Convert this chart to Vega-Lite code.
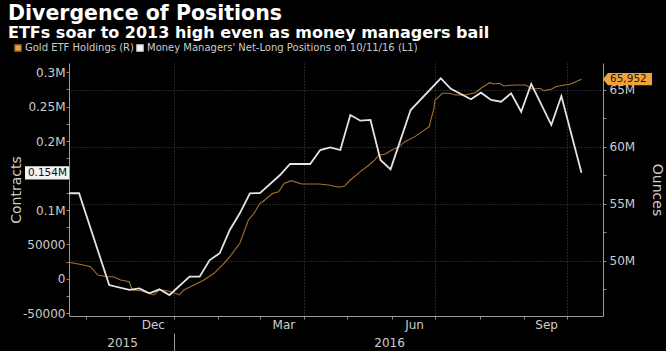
{
  "$schema": "https://vega.github.io/schema/vega-lite/v6.json",
  "width": 534,
  "height": 253,
  "autosize": {"type": "none"},
  "padding": {"left": 69, "top": 63, "right": 63, "bottom": 35},
  "background": "#000000",
  "title": {
    "text": "Divergence of Positions",
    "subtitle": "ETFs soar to 2013 high even as money managers bail",
    "anchor": "start",
    "frame": "group",
    "dx": -61,
    "offset": 2,
    "font": "DejaVu Sans",
    "fontSize": 20.5,
    "fontWeight": "bold",
    "color": "#ffffff",
    "subtitleFont": "DejaVu Sans",
    "subtitleFontSize": 16,
    "subtitleFontWeight": "bold",
    "subtitleColor": "#ffffff",
    "subtitlePadding": 1
  },
  "datasets": {
    "mm": [
      {"date": "2015-10-20", "value": 124300},
      {"date": "2015-10-27", "value": 124300},
      {"date": "2015-11-17", "value": -8900},
      {"date": "2015-12-01", "value": -16000},
      {"date": "2015-12-08", "value": -13700},
      {"date": "2015-12-15", "value": -20900},
      {"date": "2015-12-22", "value": -15100},
      {"date": "2015-12-29", "value": -23400},
      {"date": "2016-01-12", "value": 3200},
      {"date": "2016-01-19", "value": 3200},
      {"date": "2016-01-26", "value": 27400},
      {"date": "2016-02-02", "value": 37200},
      {"date": "2016-02-09", "value": 71000},
      {"date": "2016-02-16", "value": 95200},
      {"date": "2016-02-23", "value": 124300},
      {"date": "2016-03-01", "value": 124600},
      {"date": "2016-03-15", "value": 150800},
      {"date": "2016-03-22", "value": 166800},
      {"date": "2016-04-05", "value": 166800},
      {"date": "2016-04-12", "value": 187100},
      {"date": "2016-04-19", "value": 191000},
      {"date": "2016-04-26", "value": 187100},
      {"date": "2016-05-03", "value": 237900},
      {"date": "2016-05-10", "value": 229700},
      {"date": "2016-05-17", "value": 230700},
      {"date": "2016-05-24", "value": 172600},
      {"date": "2016-05-31", "value": 159100},
      {"date": "2016-06-14", "value": 245100},
      {"date": "2016-07-05", "value": 291200},
      {"date": "2016-07-12", "value": 276000},
      {"date": "2016-07-26", "value": 260700},
      {"date": "2016-08-02", "value": 270300},
      {"date": "2016-08-09", "value": 259700},
      {"date": "2016-08-16", "value": 257200},
      {"date": "2016-08-23", "value": 269400},
      {"date": "2016-08-30", "value": 242700},
      {"date": "2016-09-06", "value": 283000},
      {"date": "2016-09-20", "value": 223400},
      {"date": "2016-09-27", "value": 265500},
      {"date": "2016-10-11", "value": 154000}
    ],
    "etf": [
      {"date": "2015-10-20", "value": 49860000},
      {"date": "2015-10-30", "value": 49620000},
      {"date": "2015-11-04", "value": 49470000},
      {"date": "2015-11-09", "value": 48740000},
      {"date": "2015-11-16", "value": 48590000},
      {"date": "2015-11-20", "value": 48590000},
      {"date": "2015-11-25", "value": 48300000},
      {"date": "2015-12-01", "value": 48150000},
      {"date": "2015-12-03", "value": 47430000},
      {"date": "2015-12-09", "value": 47360000},
      {"date": "2015-12-18", "value": 46990000},
      {"date": "2015-12-22", "value": 47430000},
      {"date": "2015-12-28", "value": 47340000},
      {"date": "2015-12-31", "value": 47220000},
      {"date": "2016-01-05", "value": 46990000},
      {"date": "2016-01-08", "value": 47430000},
      {"date": "2016-01-15", "value": 47860000},
      {"date": "2016-01-22", "value": 48300000},
      {"date": "2016-01-29", "value": 48890000},
      {"date": "2016-02-05", "value": 49770000},
      {"date": "2016-02-09", "value": 50350000},
      {"date": "2016-02-16", "value": 51530000},
      {"date": "2016-02-22", "value": 53580000},
      {"date": "2016-02-25", "value": 54020000},
      {"date": "2016-02-26", "value": 54170000},
      {"date": "2016-03-01", "value": 55040000},
      {"date": "2016-03-03", "value": 55180000},
      {"date": "2016-03-07", "value": 55620000},
      {"date": "2016-03-10", "value": 55920000},
      {"date": "2016-03-14", "value": 56060000},
      {"date": "2016-03-18", "value": 56800000},
      {"date": "2016-03-23", "value": 57030000},
      {"date": "2016-03-30", "value": 56740000},
      {"date": "2016-04-11", "value": 56740000},
      {"date": "2016-04-18", "value": 56650000},
      {"date": "2016-04-25", "value": 56450000},
      {"date": "2016-04-29", "value": 56560000},
      {"date": "2016-05-03", "value": 57090000},
      {"date": "2016-05-10", "value": 57820000},
      {"date": "2016-05-16", "value": 58410000},
      {"date": "2016-05-20", "value": 58850000},
      {"date": "2016-05-23", "value": 59290000},
      {"date": "2016-05-27", "value": 59350000},
      {"date": "2016-06-01", "value": 59730000},
      {"date": "2016-06-06", "value": 60020000},
      {"date": "2016-06-10", "value": 60460000},
      {"date": "2016-06-17", "value": 60900000},
      {"date": "2016-06-22", "value": 61340000},
      {"date": "2016-06-27", "value": 61780000},
      {"date": "2016-06-28", "value": 62360000},
      {"date": "2016-06-30", "value": 63240000},
      {"date": "2016-07-01", "value": 64120000},
      {"date": "2016-07-05", "value": 64560000},
      {"date": "2016-07-06", "value": 64710000},
      {"date": "2016-07-11", "value": 64710000},
      {"date": "2016-07-15", "value": 64560000},
      {"date": "2016-07-22", "value": 64560000},
      {"date": "2016-07-29", "value": 64760000},
      {"date": "2016-08-02", "value": 65150000},
      {"date": "2016-08-08", "value": 65640000},
      {"date": "2016-08-11", "value": 65530000},
      {"date": "2016-08-15", "value": 65590000},
      {"date": "2016-08-18", "value": 65350000},
      {"date": "2016-08-22", "value": 65410000},
      {"date": "2016-08-29", "value": 65440000},
      {"date": "2016-09-02", "value": 65440000},
      {"date": "2016-09-07", "value": 65060000},
      {"date": "2016-09-12", "value": 65150000},
      {"date": "2016-09-15", "value": 64940000},
      {"date": "2016-09-20", "value": 65060000},
      {"date": "2016-09-23", "value": 65290000},
      {"date": "2016-09-28", "value": 65410000},
      {"date": "2016-10-03", "value": 65500000},
      {"date": "2016-10-07", "value": 65730000},
      {"date": "2016-10-11", "value": 65952000}
    ],
    "mmTag": [{"label": "0.154M", "value": 154000}],
    "etfTag": [{"label": "65,952", "value": 65952000}]
  },
  "layer": [
    {
      "data": {"name": "etf", "format": {"parse": {"date": "date:'%Y-%m-%d'"}}},
      "mark": {"type": "line", "strokeWidth": 1.1},
      "encoding": {
        "x": {
          "field": "date",
          "type": "temporal",
          "axis": {
            "orient": "bottom",
            "offset": 17,
            "title": null,
            "values": [
              {"year": 2015, "month": 11, "date": 26},
              {"year": 2016, "month": 1, "date": 1},
              {"year": 2016, "month": 5, "date": 30}
            ],
            "domain": false,
            "grid": false,
            "tickSize": 18,
            "tickColor": "#999999",
            "tickOpacity": {"condition": {"test": "month(datum.value) == 0 && date(datum.value) == 1", "value": 1}, "value": 0},
            "labelExpr": "(month(datum.value) == 0 && date(datum.value) == 1) ? '' : timeFormat(datum.value, '%Y')",
            "labelPadding": -14,
            "labelColor": "#cccccc",
            "labelFont": "DejaVu Sans",
            "labelFontSize": 12,
            "labelOverlap": false,
            "labelFlush": false,
            "labelBound": false
          }
        },
        "y": {
          "field": "value",
          "type": "quantitative",
          "scale": {"domain": [45140000, 67370000], "nice": false, "zero": false},
          "axis": {
            "orient": "right",
            "title": "Ounces",
            "titleColor": "#cccccc",
            "titleFont": "DejaVu Sans",
            "titleFontSize": 14,
            "titleFontWeight": "normal",
            "titlePadding": 15,
            "values": [47500000, 50000000, 52500000, 55000000, 57500000, 60000000, 62500000, 65000000],
            "labelExpr": "datum.value % 5000000 == 0 ? format(datum.value / 1000000, 'd') + 'M' : ''",
            "labelColor": "#cccccc",
            "labelFont": "DejaVu Sans",
            "labelFontSize": 12,
            "labelPadding": 3,
            "labelOverlap": false,
            "labelFlush": false,
            "labelBound": false,
            "tickSize": 3,
            "tickColor": "#888888",
            "domainColor": "#999999",
            "grid": true,
            "gridColor": "#4a4a4a",
            "gridDash": [1, 2],
            "gridOpacity": {"condition": {"test": "datum.value % 5000000 == 0", "value": 1}, "value": 0}
          }
        },
        "color": {"datum": "Gold ETF Holdings (R)", "type": "nominal"}
      }
    },
    {
      "data": {"name": "mm", "format": {"parse": {"date": "date:'%Y-%m-%d'"}}},
      "mark": {"type": "line", "strokeWidth": 1.8},
      "encoding": {
        "x": {
          "field": "date",
          "type": "temporal",
          "scale": {"domain": [{"year": 2015, "month": 10, "date": 20}, {"year": 2016, "month": 10, "date": 26}]},
          "axis": {
            "orient": "bottom",
            "title": null,
            "values": [
              {"year": 2015, "month": 11, "date": 1},
              {"year": 2015, "month": 12, "date": 1},
              {"year": 2016, "month": 1, "date": 1},
              {"year": 2016, "month": 2, "date": 1},
              {"year": 2016, "month": 3, "date": 1},
              {"year": 2016, "month": 4, "date": 1},
              {"year": 2016, "month": 5, "date": 1},
              {"year": 2016, "month": 6, "date": 1},
              {"year": 2016, "month": 7, "date": 1},
              {"year": 2016, "month": 8, "date": 1},
              {"year": 2016, "month": 9, "date": 1},
              {"year": 2016, "month": 10, "date": 1}
            ],
            "labelExpr": "month(datum.value)==0 ? 'Dec' : month(datum.value)==3 ? 'Mar' : month(datum.value)==6 ? 'Jun' : month(datum.value)==9 ? 'Sep' : ''",
            "labelOffset": -21,
            "labelOverlap": false,
            "labelFlush": false,
            "labelBound": false,
            "tickSize": 3,
            "tickColor": "#888888",
            "domainColor": "#999999",
            "labelColor": "#cccccc",
            "labelFont": "DejaVu Sans",
            "labelFontSize": 12,
            "labelPadding": 0,
            "grid": true,
            "gridColor": "#4a4a4a",
            "gridDash": [1, 2],
            "gridOpacity": {"condition": {"test": "month(datum.value) % 3 == 0", "value": 1}, "value": 0}
          }
        },
        "y": {
          "field": "value",
          "type": "quantitative",
          "scale": {"domain": [-53850, 313400], "nice": false, "zero": false},
          "axis": {
            "orient": "left",
            "title": "Contracts",
            "titleColor": "#cccccc",
            "titleFont": "DejaVu Sans",
            "titleFontSize": 14,
            "titleFontWeight": "normal",
            "titlePadding": -1,
            "values": [-50000, -25000, 0, 25000, 50000, 75000, 100000, 125000, 150000, 175000, 200000, 225000, 250000, 275000, 300000],
            "labelExpr": "(datum.value % 50000 != 0 || datum.value == 150000) ? '' : (abs(datum.value) >= 100000 ? format(datum.value / 1000000, '.2~f') + 'M' : (datum.value < 0 ? '-' : '') + format(abs(datum.value), 'd'))",
            "labelColor": "#cccccc",
            "labelFont": "DejaVu Sans",
            "labelFontSize": 12,
            "labelPadding": 1,
            "labelOverlap": false,
            "labelFlush": false,
            "labelBound": false,
            "tickSize": 3,
            "tickColor": "#888888",
            "domainColor": "#999999",
            "grid": false
          }
        },
        "color": {
          "datum": "Money Managers' Net-Long Positions  on 10/11/16 (L1)",
          "type": "nominal",
          "scale": {
            "domain": ["Gold ETF Holdings (R)", "Money Managers' Net-Long Positions  on 10/11/16 (L1)"],
            "range": ["#a8702e", "#e4e4e4"]
          },
          "legend": {
            "orient": "none",
            "legendX": -56,
            "legendY": -20,
            "direction": "horizontal",
            "title": null,
            "symbolType": "square",
            "symbolSize": 36,
            "labelColor": "#cccccc",
            "labelFont": "DejaVu Sans",
            "labelFontSize": 10,
            "labelLimit": 0,
            "labelOffset": 2,
            "columnPadding": 0,
            "padding": 0,
            "encode": {
              "symbols": {
                "update": {
                  "fill": {"signal": "datum.value == 'Gold ETF Holdings (R)' ? '#f4a23c' : '#f2f2f2'"},
                  "stroke": {"value": "transparent"}
                }
              }
            }
          }
        }
      }
    },
    {
      "data": {"name": "mmTag"},
      "mark": {"type": "point", "shape": "M-2,-0.3L0,-0.3L0,0.3L-2,0.3Z", "size": 1936, "filled": true, "color": "#f2f2f2", "opacity": 1},
      "encoding": {
        "x": {"datum": {"year": 2015, "month": 10, "date": 20}, "type": "temporal", "axis": null},
        "y": {"field": "value", "type": "quantitative", "scale": {"domain": [-53850, 313400], "nice": false, "zero": false}, "axis": null}
      }
    },
    {
      "data": {"name": "mmTag"},
      "mark": {"type": "text", "align": "right", "baseline": "middle", "dx": -2, "font": "DejaVu Sans", "fontSize": 10.5, "color": "#111111"},
      "encoding": {
        "x": {"datum": {"year": 2015, "month": 10, "date": 20}, "type": "temporal", "axis": null},
        "y": {"field": "value", "type": "quantitative", "scale": {"domain": [-53850, 313400], "nice": false, "zero": false}, "axis": null},
        "text": {"field": "label"}
      }
    },
    {
      "data": {"name": "etfTag"},
      "mark": {"type": "point", "shape": "M0,0L0.2,-0.25L2,-0.25L2,0.25L0.2,0.25Z", "size": 2401, "filled": true, "color": "#f0a33a", "opacity": 1},
      "encoding": {
        "x": {"datum": {"year": 2016, "month": 10, "date": 26}, "type": "temporal", "axis": null},
        "y": {"field": "value", "type": "quantitative", "scale": {"domain": [45140000, 67370000], "nice": false, "zero": false}, "axis": null}
      }
    },
    {
      "data": {"name": "etfTag"},
      "mark": {"type": "text", "align": "left", "baseline": "middle", "dx": 7, "font": "DejaVu Sans", "fontSize": 10.5, "color": "#2a1c08"},
      "encoding": {
        "x": {"datum": {"year": 2016, "month": 10, "date": 26}, "type": "temporal", "axis": null},
        "y": {"field": "value", "type": "quantitative", "scale": {"domain": [45140000, 67370000], "nice": false, "zero": false}, "axis": null},
        "text": {"field": "label"}
      }
    }
  ],
  "resolve": {"scale": {"y": "independent"}, "axis": {"x": "independent"}},
  "config": {
    "view": {"stroke": null},
    "font": "DejaVu Sans"
  }
}
